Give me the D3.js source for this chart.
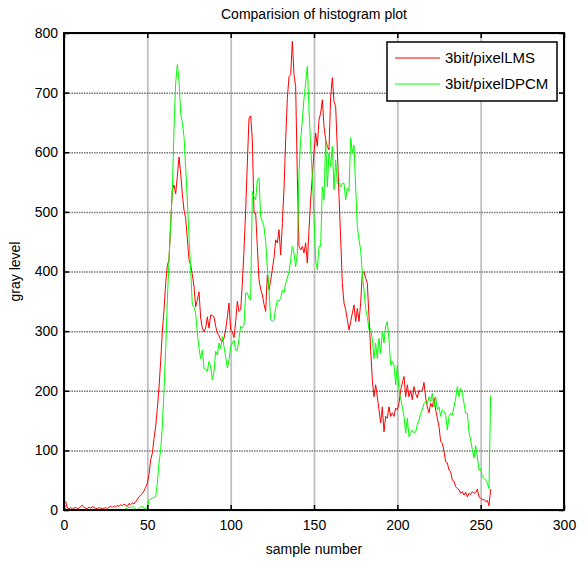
<!DOCTYPE html>
<html>
<head>
<meta charset="utf-8">
<script src="https://cdn.jsdelivr.net/npm/d3@7"></script>
<style>
  body { margin: 0; background: #fff; }
  text { font-family: "Liberation Sans", Arial, sans-serif; }
</style>
</head>
<body>
<div id="chart"></div>
<script>
// values, sample 1..256
var lmsValues = [15,3,2,4,2,3,5,2,3,6, 8,4,3,2,5,3,6,4,3,2, 4,3,2,3,4,2,5,6,4,7,
  5,8,6,9,7,10,8,6,11,9, 12,10,14,18,22,25,28,32,38,45, 60,84,95,120,140,170,205,250,300,335,
  380,410,420,480,537,545,530,560,592,565, 530,503,490,455,420,411,395,375,341,352,
  366,322,305,299,305,324,305,327,326,324, 308,297,292,285,282,288,302,324,347,302,
  299,289,316,350,333,336,380,436,503,582, 657,661,621,498,498,442,386,370,361,345,
  333,394,369,385,403,423,453,448,470,428, 480,540,621,690,727,730,786,730,710,559,
  442,436,442,431,448,414,470,520,560,600, 632,610,654,666,688,643,621,610,604,693,
  725,685,677,604,526,456,380,347,336,319, 302,316,330,344,316,338,316,347,397,400,
  389,380,324,268,218,190,210,190,168,146, 173,131,157,154,173,157,163,157,171,168,
  179,201,213,224,190,210,190,200,185,207, 195,188,201,198,201,214,188,173,163,179,
  173,188,168,154,140,115,112,98,81,79, 67,64,50,48,39,36,34,28,31,25,
  30,22,28,26,31,28,29,35,22,20, 17,18,14,16,7,35];

var dpcmValues = [2,0,0,0,1,0,0,0,0,0, 0,0,1,0,0,0,0,0,0,1, 0,0,0,0,0,1,0,0,0,0,
  0,0,1,0,0,0,2,3,5,4, 6,3,2,0,2,5,6,3,2,4, 17,18,20,21,22,45,79,101,140,201,
  268,352,419,480,537,640,716,747,721,666, 650,626,575,520,460,403,344,340,330,297,
  271,254,268,238,235,233,249,240,218,232, 266,260,280,271,291,274,257,238,252,274,
  280,285,268,268,288,308,305,310,364,364, 355,352,534,525,520,554,557,492,484,475,
  450,408,369,319,316,319,338,352,350,355, 369,365,380,389,400,419,442,431,408,431,
  565,621,654,690,716,744,671,610,559,492, 419,403,442,442,542,520,621,542,599,576,
  610,537,587,548,550,542,548,548,520,540, 535,624,599,612,542,475,453,436,397,369,
  338,324,302,304,285,254,280,254,288,263, 299,280,308,316,285,243,249,243,210,243,
  201,187,173,157,129,154,123,129,134,129, 131,143,151,162,168,179,182,179,190,182,
  196,173,190,168,173,157,168,165,159,134, 157,162,159,173,187,207,190,204,196,179,
  162,162,131,117,101,87,108,89,67,70, 56,53,50,45,36,192];

var seriesNames = ["3bit/pixelLMS", "3bit/pixelDPCM"];
var seriesColors = ["#ff0000", "#00ff00"];
var xTicks = [0, 50, 100, 150, 200, 250, 300];
var yTicks = [0, 100, 200, 300, 400, 500, 600, 700, 800];

var margin = { top: 33, right: 23, bottom: 53, left: 64 },
  width = 587 - margin.left - margin.right,
  height = 563 - margin.top - margin.bottom;

var svg = d3.select("#chart")
  .append("svg")
  .attr("width", 587)
  .attr("height", 563)
  .append("g")
  .attr("transform", "translate(" + margin.left + "," + margin.top + ")");

var x = d3.scaleLinear().domain([0, 300]).range([0, width]);
var y = d3.scaleLinear().domain([0, 800]).range([height, 0]);

// grid
svg.append("g")
  .attr("transform", "translate(0," + height + ")")
  .call(d3.axisBottom(x).tickValues(xTicks).tickSize(-height).tickFormat(""))
  .call(function (g) { g.select(".domain").remove(); })
  .selectAll("line")
  .attr("stroke", "#c0c0c0")
  .attr("stroke-width", 1.8);

svg.append("g")
  .call(d3.axisLeft(y).tickValues(yTicks).tickSize(-width).tickFormat(""))
  .call(function (g) { g.select(".domain").remove(); })
  .selectAll("line")
  .attr("stroke", "#777")
  .attr("stroke-width", 1.5)
  .attr("stroke-dasharray", "1.5,1");

// lines
var series = [lmsValues, dpcmValues];
var line = d3.line()
  .x(function (d, i) { return x(i + 1); })
  .y(function (d) { return y(d); });

svg.selectAll(".series")
  .data(series)
  .enter()
  .append("path")
  .attr("class", "series")
  .attr("fill", "none")
  .attr("stroke", function (d, i) { return seriesColors[i]; })
  .attr("stroke-width", 1)
  .attr("d", line);

// axes, ticks inside
var xAxis = svg.append("g")
  .attr("transform", "translate(0," + height + ")")
  .call(d3.axisBottom(x).tickValues(xTicks).tickSizeInner(-5).tickSizeOuter(0).tickPadding(10));
var xTop = svg.append("g")
  .call(d3.axisTop(x).tickValues(xTicks).tickSizeInner(-5).tickSizeOuter(0).tickFormat(""));
var yAxis = svg.append("g")
  .call(d3.axisLeft(y).tickValues(yTicks).tickSizeInner(-5).tickSizeOuter(0).tickPadding(6));
var yRight = svg.append("g")
  .attr("transform", "translate(" + width + ",0)")
  .call(d3.axisRight(y).tickValues(yTicks).tickSizeInner(-5).tickSizeOuter(0).tickFormat(""));

[xAxis, xTop, yAxis, yRight].forEach(function (g) {
  g.select(".domain").remove();
  g.selectAll("line").attr("stroke", "#000").attr("stroke-width", 1.5);
  g.selectAll("text").attr("fill", "#000").style("font-size", "14px");
});

svg.append("rect")
  .attr("width", width)
  .attr("height", height)
  .attr("fill", "none")
  .attr("stroke", "#000")
  .attr("stroke-width", 2);

// title and labels
svg.append("text")
  .attr("x", width / 2)
  .attr("y", -14)
  .attr("text-anchor", "middle")
  .style("font-size", "14px")
  .text("Comparision of histogram plot");

svg.append("text")
  .attr("x", width / 2)
  .attr("y", height + 44)
  .attr("text-anchor", "middle")
  .style("font-size", "14px")
  .text("sample number");

svg.append("text")
  .attr("transform", "translate(-44," + (height / 2) + ")rotate(-90)")
  .attr("text-anchor", "middle")
  .style("font-size", "14px")
  .text("gray level");

// legend
var legend = svg.append("g")
  .attr("transform", "translate(" + (width - 177) + ",9)");
legend.append("rect")
  .attr("width", 170)
  .attr("height", 59)
  .attr("fill", "#fff")
  .attr("stroke", "#000")
  .attr("stroke-width", 1.5);
var item = legend.selectAll(".item")
  .data(seriesNames)
  .enter()
  .append("g")
  .attr("transform", function (d, i) { return "translate(0," + (16 + i * 26) + ")"; });
item.append("line")
  .attr("x1", 8).attr("x2", 53)
  .attr("stroke", function (d, i) { return seriesColors[i]; })
  .attr("stroke-width", 1);
item.append("text")
  .attr("x", 58)
  .attr("dy", "0.35em")
  .style("font-size", "15px")
  .text(function (d) { return d; });
</script>
</body>
</html>
